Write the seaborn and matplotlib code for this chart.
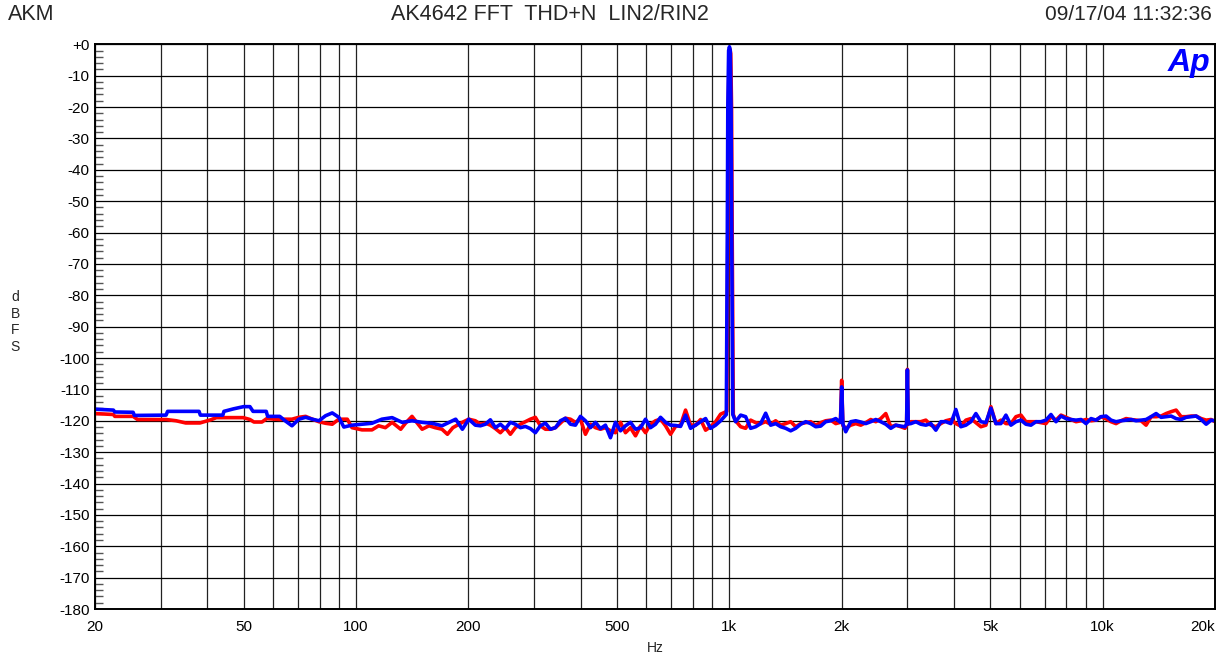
import numpy as np
import pandas as pd
import matplotlib
matplotlib.use("Agg")
import matplotlib.pyplot as plt
import seaborn as sns
from matplotlib.ticker import FixedLocator, FixedFormatter, MultipleLocator, NullFormatter

# ---------------- data ----------------
low_freq_blue = [20, 22.4, 22.6, 25.3, 25.5, 31, 31.3, 38, 38.3, 44,
                 44.3, 47, 50, 52, 53, 57.5, 58, 62.5, 64.6, 67.4,
                 70.3, 73.3, 76.4, 79.6, 82.9, 86.4, 90, 92.8, 97.6, 103.8,
                 110.4, 117.3, 125, 132.9, 141.3, 150.4, 160, 170, 177.7, 185,
                 192.8, 200.5, 208.8]
low_db_blue = [-116.3, -116.6, -117.2, -117.3, -118.3, -118.2, -117, -117, -118.2, -118.2,
               -117, -116.2, -115.5, -115.5, -117, -117, -118.6, -118.6, -120, -121.6,
               -119.5, -118.9, -119.5, -120, -118.4, -117.5, -118.9, -122, -121.4, -121.1,
               -120.8, -119.5, -119, -120.5, -120, -120.5, -120.8, -121.6, -120.5, -119.5,
               -122.7, -119.5, -121.4]

low_freq_red = [20, 22.4, 22.6, 25.3, 26, 31, 33, 35, 38.2, 40.8,
                42.3, 49.9, 52, 53.3, 56, 57.7, 62.6, 64.6, 67.4, 70.3,
                73.3, 76.4, 79.6, 82.9, 86.4, 90, 94.8, 97.6, 103.8, 110.4,
                115, 119.9, 125, 131.8, 135.7, 141.3, 145.5, 150.4, 156.9, 163,
                170, 175.8, 181.8, 192.8, 200.5, 208.8]
low_db_red = [-117.7, -118, -118.6, -118.6, -119.6, -119.6, -120, -120.7, -120.7, -119.7,
              -119, -119, -119.6, -120.4, -120.4, -119.3, -119.6, -119.5, -119.5, -118.9,
              -118.6, -119.5, -120.3, -120.8, -121.1, -119.5, -119.5, -122.2, -122.9, -122.9,
              -121.6, -122.2, -120.5, -122.7, -120.8, -118.6, -120.5, -122.7, -121.6, -122.2,
              -122.7, -124.3, -122.2, -120.5, -119.5, -120]

# shared frequencies below the 1 kHz tone
freq_mid = [215.4, 222.2, 229.1, 236.3, 243.7, 251.3, 259.2, 267.3, 275.7, 284.3,
            293.2, 302.4, 311.9, 321.7, 331.8, 342.2, 352.9, 364.0, 375.4, 387.2,
            399.3, 411.8, 424.7, 438.0, 451.8, 465.9, 480.5, 495.6, 511.2, 527.2,
            543.7, 560.8, 578.4, 596.5, 615.2, 634.5, 654.4, 674.9, 696.1, 717.9,
            740.4, 763.6, 787.6, 812.3, 837.8, 864.0, 891.1, 919.1, 947.9]
db_mid_blue = [-121.6, -121.1, -119.7, -122.2, -121.1, -122.5, -120.5, -121.1, -122.2, -121.8,
               -122.5, -123.8, -121.6, -120.75, -122.7, -122.2, -120, -119.2, -121.1, -121.4,
               -118.6, -120, -122.2, -120.5, -122.5, -121.4, -125.4, -120.5, -123.2, -121.6,
               -120.5, -122.7, -122.2, -119.5, -122.2, -121.1, -118.9, -120.5, -121.4, -121.5,
               -121.8, -118.2, -122.4, -121.4, -120.3, -119.3, -122.4, -121.4, -120]
db_mid_red = [-121.1, -120.75, -121.4, -122.5, -123.8, -122.2, -124.3, -122.2, -121.1, -120.3,
              -119.5, -118.9, -121.6, -122.7, -122.7, -122.2, -120.75, -119.2, -119.5, -120.5,
              -119.5, -124.3, -121.1, -122.2, -122.7, -122.2, -123.2, -123.8, -120.5, -123.8,
              -122.2, -124.8, -121.6, -123.8, -121.1, -120, -119.5, -121.6, -124.3, -121.8,
              -121.4, -116.6, -121.4, -121.4, -119.6, -123, -121.9, -120.3, -117.9]

# 1 kHz test tone
peak_freq_blue = [982, 988, 991, 996, 1001, 1006, 1011, 1015, 1022]
peak_db_blue = [-118, -60, -20, -2, -0.8, -2, -20, -60, -118]
peak_freq_red = [985, 991, 994, 999, 1004, 1009, 1014, 1018, 1025]
peak_db_red = [-117, -60, -20, -3, -1.5, -3, -20, -60, -118]

# shared frequencies above the tone
freq_top = [1039.9, 1072.5, 1106.1, 1140.8, 1176.6, 1213.5, 1251.5, 1290.7, 1331.2,
            1372.9, 1416.0, 1460.4, 1506.2, 1553.4, 1602.1, 1652.3, 1704.1, 1757.5, 1812.6,
            1869.5, 1928.1,
            1985, 2000, 2015,
            2050.9, 2115.2, 2181.5, 2249.9, 2320.4, 2393.2, 2468.2, 2545.6,
            2625.4, 2707.7, 2792.6, 2880.2, 2955,
            2985, 3000, 3015,
            3063.6, 3159.7, 3258.8, 3360.9, 3466.3, 3575.0, 3687.1, 3802.7, 3922.0, 4044.9,
            4171.8, 4302.6, 4437.5, 4576.6, 4720.1, 4868.1, 5020.8, 5178.2, 5340.6, 5508.0,
            5680.7, 5858.8, 6042.5, 6232.0, 6427.4, 6628.9, 6836.8, 7051.1, 7272.2, 7500.2,
            7735.4, 7977.9, 8228.1, 8486.1, 8752.2, 9026.6, 9309.6, 9601.5, 9902.6, 10213,
            10533, 10863, 11204, 11555, 11918, 12291, 12677, 13074, 13484, 13907,
            14343, 14793, 15257, 15735, 16229, 16738, 17262, 17804, 18362, 18938,
            19531, 20000]
db_top_blue = [-120.3, -118.2, -118.7, -122.4, -121.9, -120.9, -117.6, -121.4, -120.9,
               -121.9, -122.4, -123.2, -122.4, -121.1, -120.3, -120.9, -121.9, -121.7, -120.3,
               -120, -119.3,
               -120.5, -109.2, -121,
               -123.5, -120.3, -120, -120.4, -120.9, -120.3, -119.6, -120.3,
               -121.1, -122.4, -121.4, -121.7, -121.9,
               -121, -103.8, -121,
               -120.9, -120.3, -121.1, -121.4, -120.9, -123, -120.3, -120.3, -120.9, -116.4,
               -121.9, -121.4, -120.3, -117.7, -120.3, -120.6, -116, -120.9, -120.9, -118.2,
               -121.4, -120.3, -119.8, -121.1, -121.4, -120.3, -120.3, -119.8, -118, -120.3,
               -118.5, -119.3, -119.6, -119.8, -119.6, -120.9, -119.3, -119.8, -118.7, -118.5,
               -119.8, -120.3, -120, -119.8, -119.6, -120, -119.8, -119.6, -118.7, -117.7,
               -118.9, -118.7, -118.5, -119.3, -119.6, -118.9, -118.7, -118.5, -119.6, -121.1,
               -119.8, -120]
db_top_red = [-120, -121.9, -122.4, -119.8, -120.6, -120.9, -120.3, -121.1, -120,
              -121.4, -120.9, -120.3, -121.9, -120.9, -120.6, -120.3, -121.4, -120.6, -120,
              -119.8, -120.9,
              -120.5, -107.1, -121.5,
              -122.4, -121.4, -120.9, -121.4, -120.6, -119.6, -120.3, -119.3,
              -117.7, -121.9, -121.4, -121.9, -122.4,
              -121.5, -103.6, -121,
              -120.3, -120.3, -120.3, -119.8, -121.4, -121.9, -120.9, -120, -119.6, -120.9,
              -121.7, -119.8, -119.3, -120.6, -121.9, -121.4, -115.5, -120.9, -119.8, -120.9,
              -120.9, -118.7, -118.2, -120.3, -120.3, -120.3, -120.6, -120.9, -118.7, -119.8,
              -118.2, -118.9, -119.6, -120.3, -120, -119.6, -120, -119.8, -118.7, -119.4,
              -120.3, -120.9, -120, -119.3, -119.6, -119.8, -120, -121.4, -118.7, -118.7,
              -118.5, -117.7, -117.1, -116.6, -118.7, -118.7, -118.5, -118.5, -119.3, -119.8,
              -119.6, -120.3]

x_tick_values = [20, 50, 100, 200, 500, 1000, 2000, 5000, 10000, 20000]
x_tick_labels = ["20", "50", "100", "200", "500", "1k", "2k", "5k", "10k", "20k"]
y_tick_values = list(range(0, -190, -10))
y_tick_labels = ["+0"] + [str(v) for v in range(-10, -190, -10)]

# ---------------- figure ----------------
sns.set_style("white")
plt.rcParams['font.family'] = ['Liberation Sans', 'DejaVu Sans']

W, H = 1228, 661
fig = plt.figure(figsize=(W / 100, H / 100), dpi=100)
ax = fig.add_axes([95 / W, (H - 609) / H, 1120 / W, 564.7 / H])

df = pd.concat([
    pd.DataFrame({"Hz": low_freq_red + freq_mid + peak_freq_red + freq_top,
                  "dBFS": low_db_red + db_mid_red + peak_db_red + db_top_red, "ch": "LIN2"}),
    pd.DataFrame({"Hz": low_freq_blue + freq_mid + peak_freq_blue + freq_top,
                  "dBFS": low_db_blue + db_mid_blue + peak_db_blue + db_top_blue, "ch": "RIN2"}),
], ignore_index=True)

ax.set_xscale("log")
sns.lineplot(data=df, x="Hz", y="dBFS", hue="ch",
             palette={"LIN2": "#ff0000", "RIN2": "#0000ff"},
             estimator=None, sort=False, linewidth=2.6, legend=False, ax=ax)

ax.set_xlim(20, 20000)
ax.set_ylim(-180, 0)

# x ticks / grid
ax.xaxis.set_major_locator(FixedLocator(x_tick_values))
ax.xaxis.set_major_formatter(FixedFormatter(x_tick_labels))
minor_x = [m * d for d in (10, 100, 1000, 10000) for m in range(1, 10)
           if 20 <= m * d <= 20000 and m * d not in x_tick_values]
ax.xaxis.set_minor_locator(FixedLocator(minor_x))
ax.xaxis.set_minor_formatter(NullFormatter())

# y ticks / grid
ax.yaxis.set_major_locator(FixedLocator(y_tick_values))
ax.yaxis.set_major_formatter(FixedFormatter(y_tick_labels))
ax.yaxis.set_minor_locator(MultipleLocator(2))

ax.tick_params(axis="x", which="both", length=0, pad=8, labelsize=11, colors="black")
ax.tick_params(axis="y", which="major", length=0, pad=4, labelsize=11, colors="black")
ax.tick_params(axis="y", which="minor", direction="in", length=6, width=1.0,
               color="#555555", left=True)

ax.grid(True, which="both", axis="x", color="#222222", linewidth=0.9)
ax.grid(True, which="major", axis="y", color="black", linewidth=0.9)
ax.grid(False, which="minor", axis="y")
ax.set_axisbelow(True)

for sp in ax.spines.values():
    sp.set_visible(True)
    sp.set_color("black")
    sp.set_linewidth(1.4)

ax.set_xlabel("")
ax.set_ylabel("")

# the last frequency label sits inside the right edge, as in the reference
fig.canvas.draw()
xlabels = ax.get_xticklabels()
xlabels[-1].set_horizontalalignment("right")

# texts
fig.text(8 / W, 1 - 14 / H, "AKM", fontsize=15.5, ha="left", va="center")
fig.text(550 / W, 1 - 14 / H, "AK4642 FFT  THD+N  LIN2/RIN2", fontsize=15.5, ha="center", va="center")
fig.text(1212 / W, 1 - 14 / H, "09/17/04 11:32:36", fontsize=15, ha="right", va="center")
fig.text(15 / W, 1 - 322 / H, "d\nB\nF\nS", fontsize=10, ha="center", va="center", linespacing=1.25)
fig.text(655 / W, 1 - 648 / H, "Hz", fontsize=10, ha="center", va="center")
ax.text(0.9955, 0.993, "Ap", transform=ax.transAxes, ha="right", va="top",
        fontsize=23, fontweight="bold", fontstyle="italic", color="#0000ff")

fig.savefig("out.png", dpi=100)
